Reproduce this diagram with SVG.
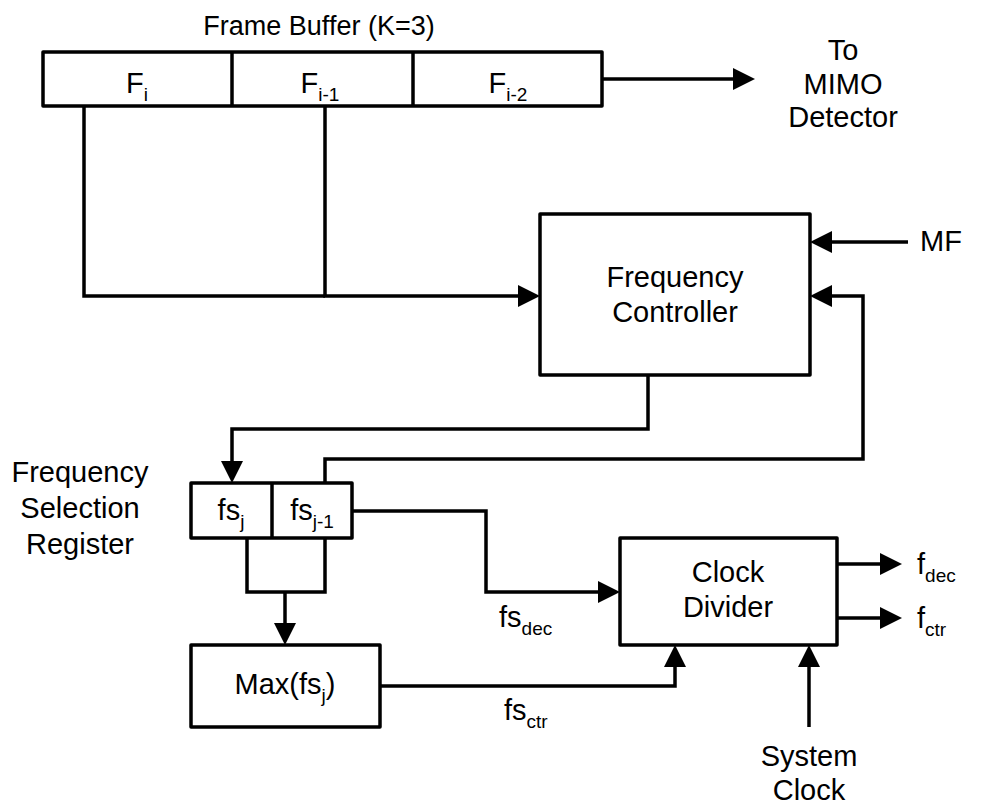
<svg xmlns="http://www.w3.org/2000/svg" width="985" height="806" viewBox="0 0 985 806">
<defs>
<marker id="ah" viewBox="0 0 22 22" refX="14" refY="11" markerWidth="22" markerHeight="22" markerUnits="userSpaceOnUse" orient="auto">
<path d="M0,0 L22,11 L0,22 z" fill="#000"/>
</marker>
<style>
.box{fill:#fff;stroke:#000;stroke-width:3.5;stroke-linejoin:round}
.ln{fill:none;stroke:#000;stroke-width:3.5;stroke-linejoin:miter}
.ar{fill:none;stroke:#000;stroke-width:3.5;marker-end:url(#ah)}
text{font-family:"Liberation Sans",Arial,sans-serif;font-size:29px;fill:#000}
.c{text-anchor:middle}
.t{font-size:27px}
.s{font-size:19px}
</style>
</defs>
<rect width="985" height="806" fill="#fff"/>
<g id="connectors">
<path class="ar" d="M602,79 H747"/>
<path class="ln" d="M84,106 V296 H325"/>
<path class="ar" d="M325,106 V296 H532"/>
<path class="ar" d="M908,242 H818"/>
<path class="ar" d="M325,483 V459 H863 V296 H818"/>
<path class="ar" d="M648,375 V429 H232 V475"/>
<path class="ln" d="M247,538 V592 H325 V538"/>
<path class="ar" d="M285,592 V637"/>
<path class="ar" d="M352,511 H486 V592 H612"/>
<path class="ar" d="M380,686 H675 V653"/>
<path class="ar" d="M809,727 V653"/>
<path class="ar" d="M837,564 H894"/>
<path class="ar" d="M837,618 H894"/>
</g>
<g id="frame-buffer">
<rect class="box" x="43" y="52" width="559" height="54"/>
<line class="ln" x1="232" y1="52" x2="232" y2="106"/>
<line class="ln" x1="413" y1="52" x2="413" y2="106"/>
<text class="c t" x="319" y="35">Frame Buffer (K=3)</text>
<text class="c" x="137" y="93">F<tspan class="s" dy="8">i</tspan></text>
<text class="c" x="320" y="93">F<tspan class="s" dy="8">i-1</tspan></text>
<text class="c" x="508" y="93">F<tspan class="s" dy="8">i-2</tspan></text>
</g>
<g id="to-mimo">
<text class="c" x="843" y="60">To</text>
<text class="c" x="843" y="94">MIMO</text>
<text class="c" x="843" y="127">Detector</text>
</g>
<g id="frequency-controller">
<rect class="box" x="540" y="214" width="270" height="161"/>
<text class="c" x="675" y="287">Frequency</text>
<text class="c" x="675" y="322">Controller</text>
</g>
<g id="mf">
<text x="920" y="251">MF</text>
</g>
<g id="fs-register">
<rect class="box" x="191" y="483" width="161" height="55"/>
<line class="ln" x1="272" y1="483" x2="272" y2="538"/>
<text class="c" x="231" y="520">fs<tspan class="s" dy="8">j</tspan></text>
<text class="c" x="312" y="520">fs<tspan class="s" dy="8">j-1</tspan></text>
<text class="c" x="80" y="482">Frequency</text>
<text class="c" x="80" y="518">Selection</text>
<text class="c" x="80" y="554">Register</text>
</g>
<g id="max">
<rect class="box" x="191" y="645" width="189" height="82"/>
<text class="c" x="285" y="694">Max(fs<tspan class="s" dy="8">j</tspan><tspan dy="-8">)</tspan></text>
</g>
<g id="clock-divider">
<rect class="box" x="620" y="538" width="217" height="107"/>
<text class="c" x="728" y="582">Clock</text>
<text class="c" x="728" y="617">Divider</text>
</g>
<g id="labels">
<text x="499" y="627">fs<tspan class="s" dy="8">dec</tspan></text>
<text x="504" y="720">fs<tspan class="s" dy="8">ctr</tspan></text>
<text x="917" y="574">f<tspan class="s" dy="8">dec</tspan></text>
<text x="917" y="628">f<tspan class="s" dy="8">ctr</tspan></text>
</g>
<g id="system-clock">
<text class="c" x="809" y="766">System</text>
<text class="c" x="809" y="800">Clock</text>
</g>
</svg>
